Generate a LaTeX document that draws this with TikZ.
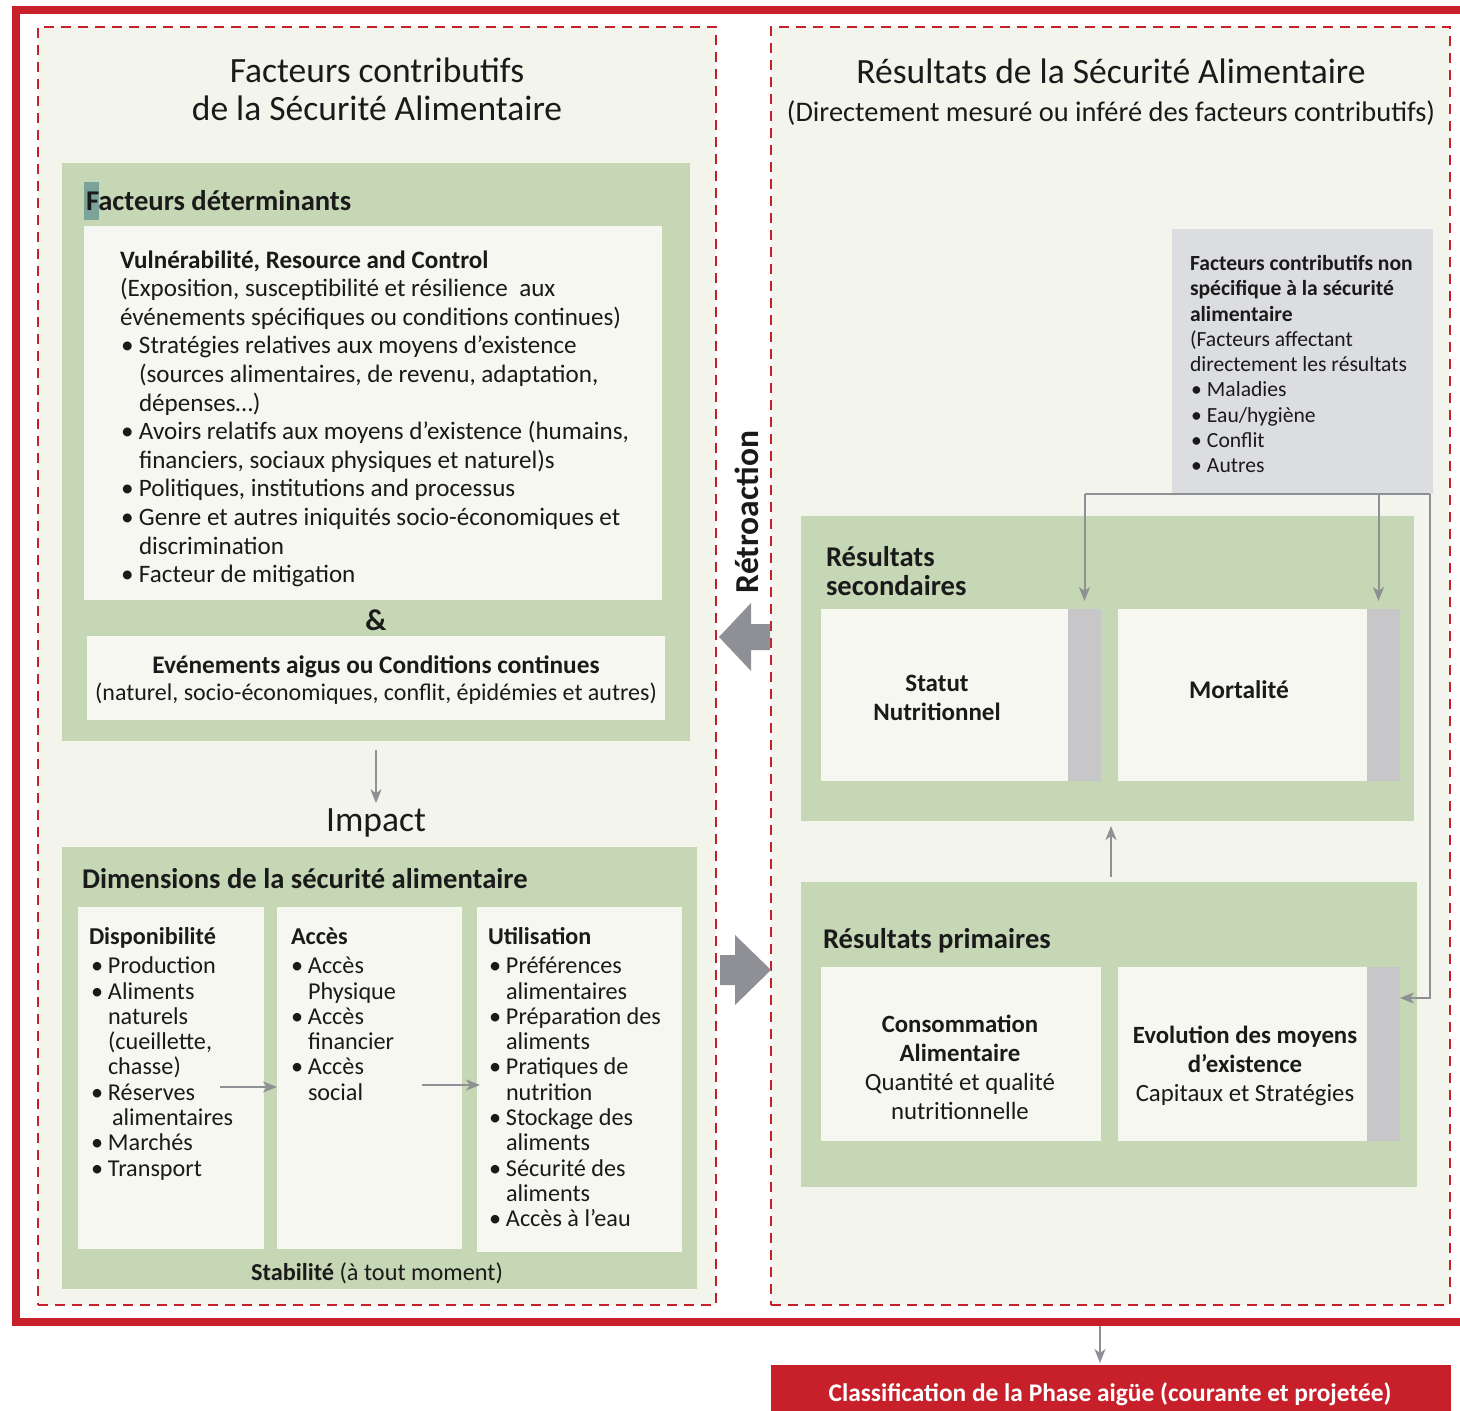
\documentclass[tikz,border=0pt]{standalone}
\usepackage{fontspec}
\setmainfont{Carlito}
\usetikzlibrary{arrows.meta}
\definecolor{ipcred}{HTML}{C8202B}
\definecolor{panelgreen}{HTML}{C5D7B5}
\definecolor{cream}{HTML}{F3F4EC}
\definecolor{wboxc}{HTML}{F6F7F0}
\definecolor{greyboxc}{HTML}{DCDDE0}
\definecolor{stripc}{HTML}{C7C7CA}
\definecolor{arrowgray}{HTML}{8E9095}
\definecolor{textc}{HTML}{1A1A1A}
\definecolor{tealmark}{HTML}{7BA39A}
\newcommand\ipcbul{\makebox[19pt][l]{\hspace*{1pt}\textbullet}}
\newcommand\ipcind{\hspace*{19pt}}
\newcommand\ipcbulc{\makebox[17pt][l]{\textbullet}}
\newcommand\ipcindc{\hspace*{17pt}}
\newcommand\ipcbulg{\makebox[17pt][l]{\hspace*{1pt}\textbullet}}
\begin{document}
\begin{tikzpicture}[x=1pt,y=-1pt,
  every node/.style={text=textc},
  box/.style={inner sep=0pt, outer sep=0pt, anchor=north west},
  panel/.style={box, fill=panelgreen},
  wbox/.style={box, fill=wboxc},
  strip/.style={box, fill=stripc},
  dbox/.style={box, draw=ipcred, line width=2pt, dash pattern=on 10pt off 7pt, fill=cream},
  txt/.style={inner sep=0pt, outer sep=0pt},
  body/.style={txt, font=\fontsize{25.1}{28.6}\selectfont, align=left, anchor=north west},
  col/.style={txt, font=\fontsize{24.2}{25.3}\selectfont, align=left, anchor=north west},
  colhead/.style={txt, font=\bfseries\fontsize{24.2}{25}\selectfont, anchor=base west},
  head/.style={txt, font=\bfseries\fontsize{28.6}{28}\selectfont},
  title/.style={txt, font=\fontsize{35.5}{38}\selectfont},
  ctr/.style={txt, font=\fontsize{24.8}{29}\selectfont, align=center},
  line/.style={draw=arrowgray, line width=2pt},
  conn/.style={line, -{Stealth[length=14pt,width=11pt,inset=4pt]}},
  blockarrow/.style={fill=arrowgray}
]
\useasboundingbox (0,0) rectangle (1460,1411);
\fill[white] (0,0) rectangle (1460,1411);

% outer red frame
\node[box, draw=ipcred, line width=8pt, minimum width=1459pt, minimum height=1312pt] (frame) at (16,10) {};

% dashed columns
\node[dbox, minimum width=678pt, minimum height=1278pt] (left) at (38,27) {};
\node[dbox, minimum width=679pt, minimum height=1278pt] (right) at (771,27) {};

% ---------- left column ----------
\node[title, align=center, anchor=north] (ltitle) at (377,56) {\strut Facteurs contributifs\\de la Sécurité Alimentaire};

\node[panel, minimum width=628pt, minimum height=578pt] (upper) at (62,163) {};
\fill[tealmark] (84,182) rectangle (99,220);
\node[head, anchor=base west] (fdet) at (86,210) {Facteurs déterminants};

\node[wbox, minimum width=578pt, minimum height=374pt] (vbox) at (84,226) {};
\node[body] (vtxt) at (120,248) {\strut\textbf{Vulnérabilité, Resource and Control}\\
(Exposition, susceptibilité et résilience\ \ aux\\
événements spécifiques ou conditions continues)\\
\ipcbul Stratégies relatives aux moyens d’existence\\
\ipcind (sources alimentaires, de revenu, adaptation,\\
\ipcind dépenses…)\\
\ipcbul Avoirs relatifs aux moyens d’existence (humains,\\
\ipcind financiers, sociaux physiques et naturel)s\\
\ipcbul Politiques, institutions and processus\\
\ipcbul Genre et autres iniquités socio-économiques et\\
\ipcind discrimination\\
\ipcbul Facteur de mitigation};

\node[txt, font=\bfseries\fontsize{30}{30}\selectfont, anchor=base] (amp) at (376,630) {\&};

\node[wbox, minimum width=578pt, minimum height=84pt] (ebox) at (87,636) {};
\node[txt, font=\fontsize{24}{27}\selectfont, align=center] (etxt) at (376,680.5) {{\bfseries\fontsize{25.3}{27}\selectfont Evénements aigus ou Conditions continues}\\(naturel, socio-économiques, conflit, épidémies et autres)};

\node[title, anchor=base] (impact) at (376,831) {Impact};

\node[panel, minimum width=635pt, minimum height=442pt] (lower) at (62,847) {};
\node[head, anchor=base west] (dimh) at (82,888) {Dimensions de la sécurité alimentaire};

\node[wbox, minimum width=186pt, minimum height=342pt] (disp) at (78,907) {};
\node[wbox, minimum width=185pt, minimum height=342pt] (acces) at (277,907) {};
\node[wbox, minimum width=205pt, minimum height=345pt] (util) at (477,907) {};

\node[colhead] (disph) at (89,944) {Disponibilité};
\node[colhead] (acch) at (291,944) {Accès};
\node[colhead] (utilh) at (488,944) {Utilisation};

\node[col] (displ) at (91,956) {\strut\ipcbulc Production\\
\ipcbulc Aliments\\
\ipcindc naturels\\
\ipcindc (cueillette,\\
\ipcindc chasse)\\
\ipcbulc Réserves\\
\hspace*{21pt}alimentaires\\
\ipcbulc Marchés\\
\ipcbulc Transport};

\node[col] (accl) at (291,956) {\strut\ipcbulc Accès\\
\ipcindc Physique\\
\ipcbulc Accès\\
\ipcindc financier\\
\ipcbulc Accès\\
\ipcindc social};

\node[col] (utill) at (489,956) {\strut\ipcbulc Préférences\\
\ipcindc alimentaires\\
\ipcbulc Préparation des\\
\ipcindc aliments\\
\ipcbulc Pratiques de\\
\ipcindc nutrition\\
\ipcbulc Stockage des\\
\ipcindc aliments\\
\ipcbulc Sécurité des\\
\ipcindc aliments\\
\ipcbulc Accès à l’eau};

\node[txt, font=\fontsize{24.3}{25}\selectfont, anchor=base] (stab) at (377,1280) {\textbf{Stabilité} (à tout moment)};

\coordinate (a1) at (220,1087);
\coordinate (a2) at (422,1085);
\draw[conn] (a1) -- (a1 -| acces.west);
\draw[conn] (a2) -- ([xshift=3pt]a2 -| util.west);
\draw[conn] ([yshift=-9pt]upper.south) -- ([yshift=5pt]impact.north);

% ---------- middle arrows ----------
\node[txt, rotate=90, font=\bfseries\fontsize{33.5}{33}\selectfont] (retro) at (747,512) {Rétroaction};
\fill[blockarrow] (770,624) -- (751,624) -- (751,603) -- (719,637) -- (751,671) -- (751,650) -- (770,650) -- cycle;
\fill[blockarrow] (720,955) -- (735,955) -- (735,935) -- (771,970) -- (735,1005) -- (735,985) -- (720,985) -- cycle;

% ---------- right column ----------
\node[title, anchor=base] (rtitle) at (1111,83) {Résultats de la Sécurité Alimentaire};
\node[txt, font=\fontsize{28.4}{30}\selectfont, anchor=base] (rsub) at (1111,121) {(Directement mesuré ou inféré des facteurs contributifs)};

\node[box, fill=greyboxc, minimum width=261pt, minimum height=265pt] (grey) at (1172,229) {};
\node[txt, font=\fontsize{21.6}{25.25}\selectfont, align=left, anchor=north west] (greyt) at (1190,253) {\strut\textbf{Facteurs contributifs non}\\
\textbf{spécifique à la sécurité}\\
\textbf{alimentaire}\\
(Facteurs affectant\\
directement les résultats\\
\ipcbulg Maladies\\
\ipcbulg Eau/hygiène\\
\ipcbulg Conflit\\
\ipcbulg Autres};

\node[panel, minimum width=613pt, minimum height=305pt] (sec) at (801,516) {};
\node[head, align=left, anchor=north west] (sech) at (826,546) {\strut Résultats\\secondaires};
\node[wbox, minimum width=247pt, minimum height=172pt] (stat) at (821,609) {};
\node[strip, minimum width=33pt, minimum height=172pt] (statbar) at (1068,609) {};
\node[wbox, minimum width=249pt, minimum height=172pt] (mort) at (1118,609) {};
\node[strip, minimum width=33pt, minimum height=172pt] (mortbar) at (1367,609) {};
\node[ctr, font=\bfseries\fontsize{25}{29}\selectfont] (statt) at (937,697.5) {Statut\\Nutritionnel};
\node[ctr, font=\bfseries\fontsize{25.4}{29}\selectfont] (mortt) at (1239,690) {Mortalité};

\node[panel, minimum width=616pt, minimum height=305pt] (prim) at (801,882) {};
\node[head, anchor=base west] (primh) at (823,948) {Résultats primaires};
\node[wbox, minimum width=280pt, minimum height=174pt] (cons) at (821,967) {};
\node[wbox, minimum width=249pt, minimum height=174pt] (evo) at (1118,967) {};
\node[strip, minimum width=33pt, minimum height=174pt] (evobar) at (1367,967) {};
\node[ctr] (const) at (960,1067.5) {\textbf{Consommation}\\\textbf{Alimentaire}\\Quantité et qualité\\nutritionnelle};
\node[ctr] (evot) at (1245,1066) {\textbf{Evolution des moyens}\\\textbf{d’existence}\\Capitaux et Stratégies};

% connectors on the right
\coordinate (evoin) at ([yshift=-31pt]evobar.north east);
\coordinate (gsplit) at ([xshift=-3pt]grey.south east);
\draw[line] (statbar.north |- grey.south) -- (gsplit);
\draw[conn] (statbar.north |- grey.south) -- ([yshift=8pt]statbar.north);
\draw[conn] ([xshift=-5pt]mortbar.north |- grey.south) -- ([xshift=-5pt,yshift=8pt]mortbar.north);
\draw[conn] (gsplit) -- (gsplit |- evoin) -- (evoin);
\coordinate (up) at (1111,0);
\draw[conn] ([yshift=5pt]up |- prim.north) -- ([yshift=-5pt]up |- sec.south);

% ---------- classification box ----------
\node[box, fill=ipcred, minimum width=680pt, minimum height=60pt] (ipc) at (771,1365) {};
\node[txt, text=white, font=\bfseries\fontsize{25.4}{26}\selectfont] (ipct) at (1110,1394) {Classification de la Phase aigüe (courante et projetée)};
\draw[conn] ([xshift=-11pt,yshift=-4pt]frame.south -| ipc.north) -- ([xshift=-11pt,yshift=2pt]ipc.north);
\end{tikzpicture}
\end{document}
